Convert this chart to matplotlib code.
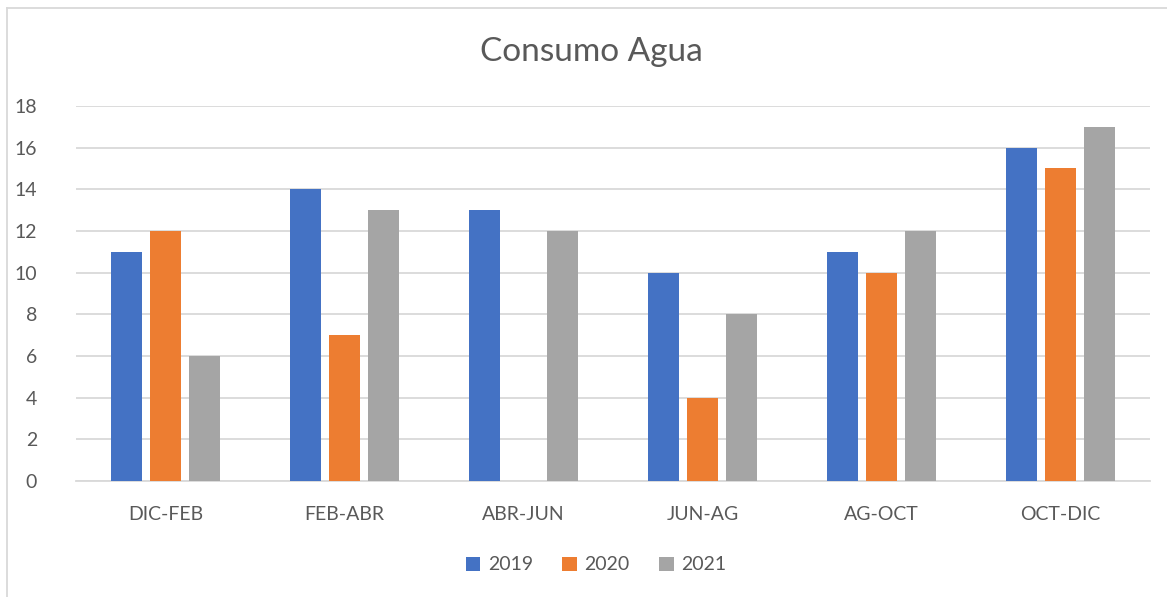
import matplotlib
matplotlib.use("Agg")
import matplotlib.pyplot as plt
from matplotlib.lines import Line2D
from matplotlib.patches import Patch
import numpy as np

categories = ["DIC-FEB", "FEB-ABR", "ABR-JUN", "JUN-AG", "AG-OCT", "OCT-DIC"]
series_names = ["2019", "2020", "2021"]
v2019 = [11, 14, 13, 10, 11, 16]
v2020 = [12, 7, 0, 4, 10, 15]
v2021 = [6, 13, 12, 8, 12, 17]
yticks = [0, 2, 4, 6, 8, 10, 12, 14, 16, 18]

colors = ["#4472C4", "#ED7D31", "#A5A5A5"]
txt = "#595959"
grid = "#D9D9D9"
font = "Lato"

W, H = 1167, 597
fig = plt.figure(figsize=(W / 100, H / 100), dpi=100)
fig.patch.set_facecolor("white")

left, right, top, bottom = 76, 1150, 106, 481
ax = fig.add_axes([left / W, 1 - bottom / H, (right - left) / W, (bottom - top) / H])

x = np.arange(len(categories))
bw = 0.173
step = 0.218
for i, (vals, c) in enumerate(zip([v2019, v2020, v2021], colors)):
    ax.bar(x + (i - 1) * step, vals, width=bw, color=c, zorder=3)

ax.set_xlim(-0.5, len(categories) - 0.5)
ax.set_ylim(0, 18)
ax.set_yticks(yticks)
ax.set_yticklabels([str(t) for t in yticks], fontsize=14, color=txt, family=font)
ax.set_xticks(x)
ax.set_xticklabels(categories, fontsize=14, color=txt, family=font)
ax.tick_params(axis="both", length=0)
ax.tick_params(axis="y", pad=28)
ax.tick_params(axis="x", pad=18)
ax.grid(axis="y", color=grid, linewidth=1.3, zorder=0)
for s in ["top", "right", "left"]:
    ax.spines[s].set_visible(False)
ax.spines["bottom"].set_color(grid)
ax.spines["bottom"].set_linewidth(1.3)
ax.set_facecolor("white")

fig.text(591 / W, 1 - 52 / H, "Consumo Agua", ha="center", va="center",
         fontsize=24, color=txt, family=font)

handles = [Patch(facecolor=c, edgecolor="none") for c in colors]
fig.legend(handles, series_names, loc="center", bbox_to_anchor=(596 / W, 1 - 565 / H),
           ncol=3, frameon=False, prop={"family": font, "size": 14},
           labelcolor=txt, handlelength=0.75, handleheight=0.75, handletextpad=0.4,
           columnspacing=1.5)

# chart border (top and left visible in the crop)
fig.add_artist(Line2D([6.5 / W, 6.5 / W], [0, 1 - 7.5 / H], transform=fig.transFigure,
                      color="#D9D9D9", linewidth=1.3))
fig.add_artist(Line2D([6.5 / W, 1], [1 - 7.5 / H, 1 - 7.5 / H], transform=fig.transFigure,
                      color="#D9D9D9", linewidth=1.3))

fig.savefig("out.png", dpi=100, facecolor="white")
